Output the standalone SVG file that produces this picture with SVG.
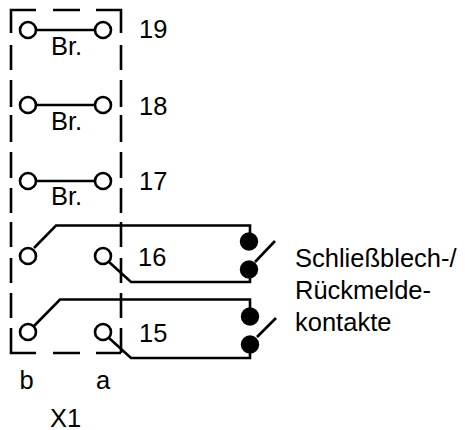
<svg xmlns="http://www.w3.org/2000/svg" width="465" height="430" viewBox="0 0 465 430">
<style>
text{font-family:"Liberation Sans",Arial,sans-serif;font-size:25.500px;fill:#000}
.l{fill:none;stroke:#000;stroke-width:2.6}
.t{fill:#fff;stroke:#000;stroke-width:2.6}
.d{fill:#000}
</style>
<rect width="465" height="430" fill="#fff"/>
<g id="frame" class="l">
<path d="M11 33V10H36M53 10H80M96 10H121V33M11 45V70M11 80V107M11 115V142M11 152V178M11 188V213M11 222V247M11 258V283M11 293V318M11 328V353H36M53 353H80M96 353H121M121 45V70M121 80V107M121 115V142M121 152V178M121 188V213M121 222V247M121 258V283M121 293V318M121 328V353"/>
</g>
<g id="connectors" class="l">
<path d="M36 30H95M36 105H95M36 181H95"/>
<path d="M34 248L56 225.500H250V241"/>
<path d="M109 262L131 282H250V269"/>
<path d="M255 262L275 241"/>
<path d="M34 326L60 299.500H250V316"/>
<path d="M109 338L131 358H250V344"/>
<path d="M257 337L276 318"/>
</g>
<g id="n19"><circle class="t" cx="28" cy="30" r="8"/><circle class="t" cx="103" cy="30" r="8"/><text x="51" y="55">Br.</text><text x="139" y="37.500">19</text></g>
<g id="n18"><circle class="t" cx="28" cy="105" r="8"/><circle class="t" cx="103" cy="105" r="8"/><text x="51" y="130">Br.</text><text x="139" y="115">18</text></g>
<g id="n17"><circle class="t" cx="28" cy="181" r="8"/><circle class="t" cx="103" cy="181" r="8"/><text x="51" y="205">Br.</text><text x="139" y="190">17</text></g>
<g id="n16"><circle class="t" cx="28" cy="256" r="8"/><circle class="t" cx="103" cy="256" r="8"/><text x="138" y="265.500">16</text></g>
<g id="n15"><circle class="t" cx="28" cy="332" r="8"/><circle class="t" cx="103" cy="332" r="8"/><text x="139" y="341.500">15</text></g>
<g id="contact16"><circle class="d" cx="249" cy="241.500" r="9.200"/><circle class="d" cx="249" cy="269.500" r="9.200"/></g>
<g id="contact15"><circle class="d" cx="250" cy="316.500" r="9.200"/><circle class="d" cx="250" cy="344.500" r="9.200"/></g>
<g id="labels">
<text x="295" y="267">Schließblech-/</text>
<text x="295" y="299">Rückmelde-</text>
<text x="295" y="331">kontakte</text>
<text x="19.500" y="389">b</text>
<text x="96" y="389">a</text>
<text x="50" y="427">X1</text>
</g>
</svg>
